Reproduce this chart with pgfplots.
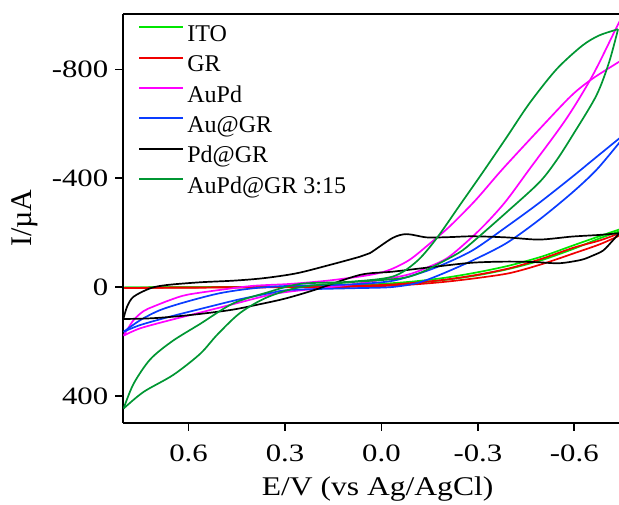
\documentclass[border=0pt]{standalone}
\usepackage{fontspec}
\setmainfont{Liberation Serif}
\usepackage{pgfplots}
\pgfplotsset{compat=1.18}
\definecolor{cITO}{RGB}{0,230,0}
\definecolor{cGR}{RGB}{240,0,0}
\definecolor{cAuPd}{RGB}{255,0,255}
\definecolor{cAuGR}{RGB}{10,60,255}
\definecolor{cPdGR}{RGB}{0,0,0}
\definecolor{cAuPdGR}{RGB}{0,150,50}
\pgfplotsset{legend image code/.code={\draw[#1, line width=1pt] (0pt,4pt) -- (22pt,4pt);}}
\newcommand{\tl}[1]{\scalebox{1.23}[1]{#1}}
\begin{document}
\begin{tikzpicture}
\begin{axis}[
  name=ax,
  scale only axis,
  width=247.85pt, height=204.35pt,
  x dir=reverse, y dir=reverse,
  xmin=-0.739, xmax=0.803,
  ymin=-1004, ymax=498,
  axis x line*=box, axis y line*=left,
  xtick pos=left, ytick pos=left,
  tick align=outside, major tick length=4pt,
  axis line style={line width=0.9pt},
  every tick/.style={line width=0.9pt, black},
  xtick={-0.6,-0.3,0,0.3,0.6},
  xticklabels={\tl{-0.6},\tl{-0.3},\tl{0.0},\tl{0.3},\tl{0.6}},
  ytick={-800,-400,0,400},
  yticklabels={\tl{-800},\tl{-400},\tl{0},\tl{400}},
  tick label style={font=\fontsize{12.5}{14}\selectfont},
  xticklabel style={yshift=-3.5pt},
  xlabel={\scalebox{1.17}[1]{E/V (vs Ag/AgCl)}},
  ylabel={I/µA},
  xlabel style={font=\fontsize{13.5}{16}\selectfont, at={(axis description cs:0.513,-0.162)}, anchor=center},
  ylabel style={font=\fontsize{15}{18}\selectfont, at={(axis description cs:-0.198,0.5)}, anchor=center},
  legend cell align=left,
  legend style={draw=none, fill=none, inner sep=0pt,
    at={(axis description cs:0,1)}, anchor=north west,
    xshift=7.35pt, yshift=-3.45pt,
    font=\fontsize{12}{14}\selectfont,
    row sep=1.2pt,
    nodes={inner sep=1.5pt, text height=8.5pt, text depth=2.5pt}},
  every axis plot/.append style={line width=0.85pt, smooth, tension=0.5},
]
% ITO
\addplot[cITO] coordinates {
(0.80,1)(0.6,0)(0.4,-1)(0.2,-2)(0.1,-4)(0.0,-8)(-0.1,-15)(-0.2,-27)(-0.3,-44)
(-0.4,-68)(-0.5,-100)(-0.6,-142)(-0.68,-180)(-0.745,-207)};
\addlegendentry{ITO}
\addplot[cITO, forget plot] coordinates {
(-0.745,-214)(-0.68,-188)(-0.6,-155)(-0.5,-113)(-0.4,-80)(-0.3,-55)(-0.2,-35)
(-0.1,-21)(0.0,-12)(0.1,-6)(0.2,-3)(0.4,-1)(0.6,0)(0.80,1)};
% GR
\addplot[cGR] coordinates {
(0.80,3)(0.6,2)(0.4,1)(0.2,0)(0.1,-1)(0.0,-4)(-0.1,-10)(-0.2,-20)(-0.3,-34)
(-0.4,-52)(-0.5,-85)(-0.6,-125)(-0.68,-158)(-0.745,-192)};
\addlegendentry{GR}
\addplot[cGR, forget plot] coordinates {
(-0.745,-200)(-0.68,-172)(-0.6,-146)(-0.5,-105)(-0.4,-70)(-0.3,-46)(-0.2,-28)
(-0.1,-16)(0.0,-8)(0.2,-2)(0.4,0)(0.6,1)(0.80,3)};
% AuPd
\addplot[cAuPd] coordinates {
(0.802,178)(0.771,121)(0.740,88)(0.709,71)(0.657,47)(0.605,28)(0.502,10)(0.398,-5)(0.284,-12)
(0.160,-25)(0.036,-45)(-0.026,-64)(-0.088,-101)(-0.150,-160)(-0.212,-223)(-0.293,-320)
(-0.376,-433)(-0.491,-580)(-0.590,-703)(-0.655,-765)(-0.736,-826)(-0.76,-845)};
\addlegendentry{AuPd}
\addplot[cAuPd, forget plot] coordinates {
(-0.745,-987)(-0.729,-949)(-0.656,-776)(-0.574,-617)(-0.460,-433)(-0.383,-310)
(-0.305,-210)(-0.212,-113)(-0.150,-76)(-0.079,-45)(0.036,-20)(0.160,0)(0.284,16)
(0.347,28)(0.450,59)(0.553,90)(0.657,121)(0.750,151)(0.802,178)};
% Au@GR
\addplot[cAuGR] coordinates {
(0.802,164)(0.750,121)(0.688,84)(0.605,53)(0.502,22)(0.398,4)(0.284,-5)
(0.098,-10)(-0.028,-22)(-0.110,-48)(-0.181,-78)(-0.283,-135)(-0.389,-222)(-0.491,-310)
(-0.593,-405)(-0.655,-465)(-0.736,-543)(-0.75,-556)};
\addlegendentry{Au@GR}
\addplot[cAuGR, forget plot] coordinates {
(-0.75,-545)(-0.736,-525)(-0.668,-430)(-0.593,-347)(-0.491,-248)(-0.389,-162)
(-0.283,-98)(-0.181,-45)(-0.110,-15)(-0.028,0)(0.098,4)(0.284,10)
(0.347,22)(0.450,47)(0.553,77)(0.657,108)(0.750,139)(0.802,164)};
% Pd@GR
\addplot[cPdGR] coordinates {
(0.802,114)(0.791,71)(0.771,35)(0.719,4)(0.667,-8)(0.564,-18)(0.460,-24)(0.367,-33)
(0.264,-51)(0.160,-82)(0.067,-112)(0.036,-125)(-0.035,-181)(-0.079,-195)(-0.141,-183)
(-0.212,-184)(-0.283,-187)(-0.389,-183)(-0.491,-175)(-0.593,-186)(-0.677,-192)
(-0.736,-198)(-0.745,-200)};
\addlegendentry{Pd@GR}
\addplot[cPdGR, forget plot] coordinates {
(-0.745,-205)(-0.72,-172)(-0.69,-135)(-0.655,-115)(-0.62,-100)(-0.553,-88)(-0.482,-92)
(-0.389,-94)(-0.283,-90)(-0.172,-76)(-0.035,-57)(0.067,-45)(0.213,12)(0.30,42)
(0.38,63)(0.47,84)(0.60,103)(0.71,114)(0.802,117)};
% AuPd@GR 3:15
\addplot[cAuPdGR] coordinates {
(0.802,446)(0.771,355)(0.719,265)(0.650,198)(0.564,135)(0.462,60)(0.357,20)(0.253,-12)
(0.098,-20)(-0.035,-39)(-0.110,-95)(-0.172,-180)(-0.243,-300)(-0.314,-420)(-0.389,-550)
(-0.460,-675)(-0.544,-800)(-0.624,-887)(-0.677,-925)(-0.736,-948)};
\addlegendentry{AuPd@GR 3:15}
\addplot[cAuPdGR, forget plot] coordinates {
(-0.736,-948)(-0.708,-826)(-0.668,-703)(-0.593,-555)(-0.544,-465)(-0.491,-385)(-0.389,-275)
(-0.283,-165)(-0.243,-128)(-0.181,-88)(-0.119,-52)(-0.057,-32)(0.098,-18)(0.253,0)
(0.357,38)(0.440,95)(0.511,175)(0.564,245)(0.647,322)(0.740,385)(0.802,446)};
\end{axis}
\pgfresetboundingbox
\path[use as bounding box] ([xshift=-61.65pt,yshift=-41.15pt]ax.south west) rectangle ([yshift=7pt]ax.north east);
\end{tikzpicture}
\end{document}
